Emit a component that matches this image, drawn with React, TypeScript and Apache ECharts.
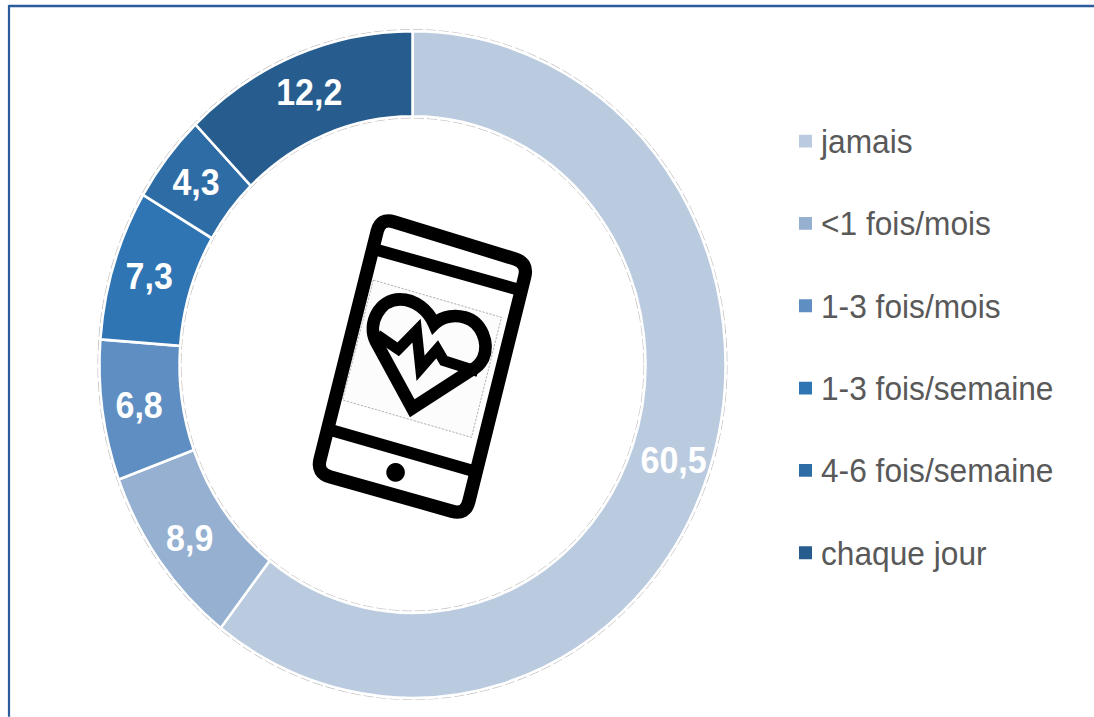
import React, { useEffect, useRef } from "react";
import * as echarts from "echarts";

const categories = ["jamais", "<1 fois/mois", "1-3 fois/mois", "1-3 fois/semaine", "4-6 fois/semaine", "chaque jour"];
const values = [60.5, 8.9, 6.8, 7.3, 4.3, 12.2];
const colors = ["#bbcbdf", "#95b0d0", "#5f8fc2", "#2f75b3", "#2e6ca6", "#265d8e"];

const STRETCH = 1.065;
const W = 1094;
const H = 717;
const FONT = '"Liberation Sans", Arial, sans-serif';

type Pt = [number, number];

function roundedPoly(pts: Pt[], r: number): string {
  const n = pts.length;
  let d = "";
  pts.forEach((p, i) => {
    const prev = pts[(i + n - 1) % n];
    const next = pts[(i + 1) % n];
    const toward = (a: Pt, b: Pt): Pt => {
      const len = Math.hypot(b[0] - a[0], b[1] - a[1]);
      return [a[0] + ((b[0] - a[0]) * r) / len, a[1] + ((b[1] - a[1]) * r) / len];
    };
    const s = toward(p, prev);
    const e = toward(p, next);
    d += `${i === 0 ? "M" : "L"}${s[0]} ${s[1]} Q${p[0]} ${p[1]} ${e[0]} ${e[1]} `;
  });
  return d + "Z";
}

const phoneBody = roundedPoly(
  [
    [242, 53],
    [685, 189],
    [497, 945],
    [50, 819],
  ],
  42
);
const phoneBars = "M232 150 L652 268 M100 692 L518 812";
const heartOutline =
  "M337 625 L228 425 C200 370 240 298 300 298 C345 298 385 330 403 372 C430 345 470 345 495 352 C545 365 570 430 550 475 C540 495 525 505 515 510 Z";
const ecgLine = "M232 405 L295 448 L350 392 L362 505 L412 448 L432 482 L535 515";
const dashedBox = "M220 240 L605 352 L515 712 L128 600 Z";

echarts.graphic.registerShape("phoneBody", echarts.graphic.extendPath(phoneBody, {}) as any);
echarts.graphic.registerShape("phoneBars", echarts.graphic.extendPath(phoneBars, {}) as any);
echarts.graphic.registerShape("heartOutline", echarts.graphic.extendPath(heartOutline, {}) as any);
echarts.graphic.registerShape("ecgLine", echarts.graphic.extendPath(ecgLine, {}) as any);
echarts.graphic.registerShape("dashedBox", echarts.graphic.extendPath(dashedBox, {}) as any);

export default function App() {
  const ref = useRef<HTMLDivElement>(null);

  useEffect(() => {
    document.body.style.margin = "0";
    const chart = echarts.init(ref.current!, undefined, { renderer: "svg" });
    const stroke = { fill: "none", stroke: "#000", lineJoin: "miter" };
    chart.setOption({
      animation: false,
      backgroundColor: "#ffffff",
      legend: {
        orient: "vertical",
        left: 797,
        top: 132.5 - 18,
        padding: 0,
        itemWidth: 15,
        itemHeight: 14,
        itemGap: 77.3 - 36,
        icon: "rect",
        selectedMode: false,
        data: categories,
        textStyle: {
          fontFamily: FONT,
          fontSize: 31.7,
          lineHeight: 36,
          color: "#595959",
          padding: [0, 0, 0, 3],
        },
      },
      series: [
        {
          type: "pie",
          center: [412.5, 342.3],
          radius: [233, 313],
          startAngle: 90,
          clockwise: true,
          avoidLabelOverlap: false,
          silent: true,
          label: {
            show: true,
            position: "inside",
            formatter: (p: any) => String(p.value).replace(".", ","),
            color: "#ffffff",
            fontFamily: FONT,
            fontWeight: "bold",
            fontSize: 34,
          },
          labelLine: { show: false },
          itemStyle: { borderColor: "#ffffff", borderWidth: 2.5 },
          data: categories.map((name, i) => ({
            name,
            value: values[i],
            itemStyle: { color: colors[i] },
          })),
        },
      ],
      graphic: [
        {
          type: "line",
          shape: { x1: 9, y1: 6 / STRETCH, x2: W, y2: 6 / STRETCH },
          style: { stroke: "#2c5c9c", lineWidth: 2.2 },
        },
        {
          type: "line",
          shape: { x1: 9, y1: 5 / STRETCH, x2: 9, y2: H / STRETCH },
          style: { stroke: "#2c5c9c", lineWidth: 2.2 },
        },
        {
          type: "circle",
          shape: { cx: 412.5, cy: 342.3, r: 314.5 },
          style: { fill: "none", stroke: "#a9a9a9", lineWidth: 0.7, lineDash: [10, 3] },
        },
        {
          type: "circle",
          shape: { cx: 412.5, cy: 342.3, r: 231.5 },
          style: { fill: "none", stroke: "#a9a9a9", lineWidth: 0.7, lineDash: [10, 3] },
        },
        {
          type: "group",
          x: 300,
          y: 200 / STRETCH,
          scaleX: 1 / 3,
          scaleY: 1 / 3 / STRETCH,
          children: [
            { type: "dashedBox", style: { fill: "#fcfcfc", stroke: "#8a8a8a", lineWidth: 2, lineDash: [7, 4] } },
            { type: "phoneBody", style: { ...stroke, lineWidth: 40 } },
            { type: "phoneBars", style: { ...stroke, lineWidth: 36 } },
            { type: "circle", shape: { cx: 287, cy: 817, r: 28 }, style: { fill: "#000" } },
            { type: "heartOutline", style: { ...stroke, lineWidth: 38 } },
            { type: "ecgLine", style: { ...stroke, lineWidth: 32 } },
          ],
        },
      ],
    });
    return () => chart.dispose();
  }, []);

  return (
    <div style={{ width: W, height: H, overflow: "hidden", background: "#fff" }}>
      <div
        ref={ref}
        style={{
          width: W,
          height: H / STRETCH,
          transform: `scaleY(${STRETCH})`,
          transformOrigin: "0 0",
        }}
      />
    </div>
  );
}
